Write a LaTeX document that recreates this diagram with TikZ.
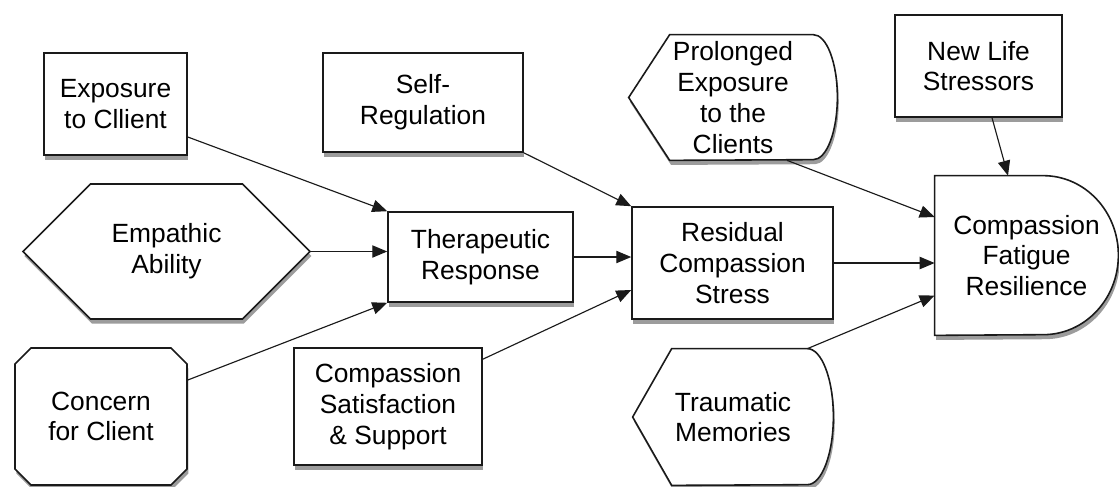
\documentclass[tikz,border=0pt]{standalone}
\usepackage{fontspec}
\setmainfont{Liberation Sans}
\usetikzlibrary{arrows.meta}
\usetikzlibrary{backgrounds}
\usetikzlibrary{shadows}
\usetikzlibrary{shapes.misc}
\usetikzlibrary{shapes.symbols}
\definecolor{darkline}{HTML}{1A1A1A}
\definecolor{shadowgray}{HTML}{4A4A4A}
\tikzset{
  factor/.style={
    draw=darkline,
    fill=white,
    rectangle,
    line width=0.9pt,
    align=center,
    inner sep=2pt,
    node font=\fontsize{15}{17.5}\selectfont,
    drop shadow={shadow xshift=0.8pt,shadow yshift=-2.6pt,fill=shadowgray,opacity=0.55},
  },
  trait/.style={
    factor,
    signal,
    signal to=east and west,
    signal pointer angle=90,
  },
  concern/.style={
    factor,
    chamfered rectangle,
    chamfered rectangle xsep=0.16cm,
    chamfered rectangle ysep=0.16cm,
  },
  textonly/.style={
    align=center,
    inner sep=0pt,
    node font=\fontsize{15}{17.5}\selectfont,
  },
  outline/.style={
    draw=darkline,
    fill=white,
    line width=0.9pt,
    drop shadow={shadow xshift=0.8pt,shadow yshift=-2.6pt,fill=shadowgray,opacity=0.55},
  },
  flow/.style={
    draw,
    darkline,
    -{Triangle[length=8.5pt,width=7pt]},
    line width=0.65pt,
  },
}

\begin{document}
\begin{tikzpicture}
  \useasboundingbox (0,0) rectangle (22.38,-9.72);

  \node (exposure)     [factor,minimum width=2.86cm,minimum height=2.04cm]   at (2.31,-2.08)  {Exposure\\to Cllient};
  \node (empathic)     [trait,minimum width=5.74cm,minimum height=2.70cm]    at (3.33,-5.03)  {Empathic\\Ability};
  \node (concern)      [concern,minimum width=3.44cm,minimum height=2.74cm]  at (2.02,-8.33)  {Concern\\for Client};
  \node (selfreg)      [factor,minimum width=4.00cm,minimum height=1.98cm]   at (8.46,-2.05)  {Self-\\Regulation};
  \node (therapeutic)  [factor,minimum width=3.70cm,minimum height=1.80cm]   at (9.61,-5.14)  {Therapeutic\\Response};
  \node (satisfaction) [factor,minimum width=3.76cm,minimum height=2.34cm]   at (7.76,-8.13)  {Compassion\\Satisfaction\\\& Support};
  \node (residual)     [factor,minimum width=4.02cm,minimum height=2.24cm]   at (14.65,-5.26) {Residual\\Compassion\\Stress};
  \node (stressors)    [factor,minimum width=3.34cm,minimum height=2.04cm]   at (19.57,-1.32) {New Life\\Stressors};
  \node (prolonged)    [textonly,minimum width=4.16cm,minimum height=2.50cm] at (14.66,-1.95) {Prolonged\\Exposure\\to the\\Clients};
  \node (traumatic)    [textonly,minimum width=4.00cm,minimum height=2.72cm] at (14.66,-8.34) {Traumatic\\Memories};
  \node (resilience)   [textonly,minimum width=3.66cm,minimum height=3.18cm] at (20.53,-5.11) {Compassion\\Fatigue\\Resilience};

  \begin{scope}[on background layer]
    \path [outline] (prolonged.west) -- ([xshift=0.82cm]prolonged.north west)
      -- ([xshift=-0.48cm]prolonged.north east)
      arc [start angle=90,end angle=-90,x radius=0.48cm,y radius=1.25cm]
      -- ([xshift=0.82cm]prolonged.south west) -- cycle;
    \path [outline] (traumatic.west) -- ([xshift=0.78cm]traumatic.north west)
      -- ([xshift=-0.52cm]traumatic.north east)
      arc [start angle=90,end angle=-90,x radius=0.52cm,y radius=1.36cm]
      -- ([xshift=0.78cm]traumatic.south west) -- cycle;
    \path [outline] (resilience.north west) -- ([xshift=-1.5cm]resilience.north east)
      arc [start angle=90,end angle=-90,x radius=1.5cm,y radius=1.59cm]
      -- (resilience.south west) -- cycle;
  \end{scope}

  \path [flow] ([yshift=-0.66cm]exposure.east) -- (therapeutic.north west);
  \path [flow] (empathic.east) -- (empathic.east -| therapeutic.west);
  \path [flow] ([yshift=0.73cm]concern.east) -- (therapeutic.south west);
  \path [flow] (selfreg.south east) -- (residual.north west);
  \path [flow] (therapeutic.east) -- (therapeutic.east -| residual.west);
  \path [flow] ([yshift=-0.24cm]satisfaction.north east) -- ([yshift=-0.54cm]residual.west);
  \path [flow] ([xshift=1.08cm]prolonged.south) -- ([yshift=0.77cm]resilience.west);
  \path [flow] (residual.east) -- (residual.east -| resilience.west);
  \path [flow] ([xshift=-0.52cm]traumatic.north east) -- ([yshift=-0.80cm]resilience.west);
  \path [flow] ([xshift=0.27cm]stressors.south) -- ([xshift=-0.37cm]resilience.north);
\end{tikzpicture}
\end{document}
